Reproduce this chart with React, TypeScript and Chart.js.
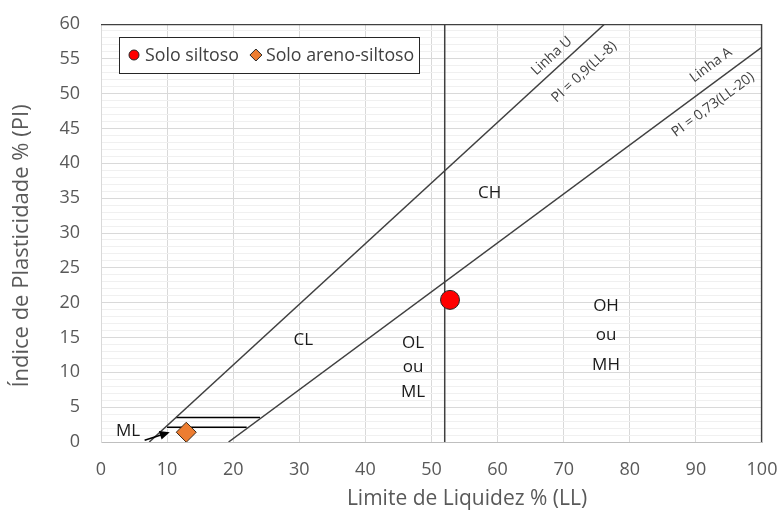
import React, { useEffect, useRef } from 'react';
import { Chart, registerables } from 'chart.js';

Chart.register(...registerables);

const FONT = '"Open Sans", sans-serif';

// ---- data ----
const seriesNames = ['Solo siltoso', 'Solo areno-siltoso'];
const siltosoLL = [52.8];
const siltosoPI = [20.4];
const arenoLL = [12.9];
const arenoPI = [1.4];

const linhaU_LL = [7.3, 76.2];
const linhaU_PI = [0, 60];
const linhaA_LL = [19.3, 100];
const linhaA_PI = [0, 56.7];
const limiteLL = [52, 52];
const limitePI = [0, 60];
const faixaSupLL = [11.35, 24.05];
const faixaSupPI = [3.5, 3.5];
const faixaInfLL = [9.98, 22.04];
const faixaInfPI = [2.1, 2.1];
const setaLL = [6.6, 10.4];
const setaPI = [0.25, 1.4];

const zoneLabels = ['CL', 'CH', 'OL', 'ou', 'ML', 'OH', 'ou', 'MH', 'ML'];
const zoneLL = [30.6, 58.8, 47.2, 47.2, 47.2, 76.4, 76.4, 76.4, 4.1];
const zonePI = [14.6, 35.7, 14.2, 10.8, 7.2, 19.5, 15.4, 11.0, 1.5];

const lineLabels = ['Linha U', 'PI = 0,9(LL-8)', 'Linha A', 'PI = 0,73(LL-20)'];
const lineLabelLL = [68.2, 73.1, 92.3, 92.6];
const lineLabelPI = [55.4, 53.1, 54.1, 48.4];
const lineLabelRef = ['U', 'U', 'A', 'A'];

const xTitle = 'Limite de Liquidez % (LL)';
const yTitle = 'Índice de Plasticidade % (PI)';

const toPts = (xs: number[], ys: number[]) => xs.map((x, i) => ({ x, y: ys[i] }));

const annotationPlugin = {
  id: 'annotations',
  afterDatasetsDraw(chart: any) {
    const ctx = chart.ctx as CanvasRenderingContext2D;
    const xs = chart.scales.x;
    const ys = chart.scales.y;
    const ca = chart.chartArea;
    ctx.save();

    // top & right frame
    ctx.strokeStyle = '#404040';
    ctx.lineWidth = 1.25;
    ctx.beginPath();
    ctx.moveTo(ca.left, ca.top + 0.5);
    ctx.lineTo(ca.right - 0.5, ca.top + 0.5);
    ctx.lineTo(ca.right - 0.5, ca.bottom);
    ctx.stroke();

    // zone labels
    ctx.fillStyle = '#1a1a1a';
    ctx.font = `17px ${FONT}`;
    ctx.textAlign = 'center';
    ctx.textBaseline = 'middle';
    zoneLabels.forEach((t, i) => {
      ctx.fillText(t, xs.getPixelForValue(zoneLL[i]), ys.getPixelForValue(zonePI[i]));
    });

    // arrow
    const ax1 = xs.getPixelForValue(setaLL[0]);
    const ay1 = ys.getPixelForValue(setaPI[0]);
    const ax2 = xs.getPixelForValue(setaLL[1]);
    const ay2 = ys.getPixelForValue(setaPI[1]);
    const ang = Math.atan2(ay2 - ay1, ax2 - ax1);
    ctx.strokeStyle = '#000';
    ctx.fillStyle = '#000';
    ctx.lineWidth = 1.5;
    ctx.beginPath();
    ctx.moveTo(ax1, ay1);
    ctx.lineTo(ax2 - 6 * Math.cos(ang), ay2 - 6 * Math.sin(ang));
    ctx.stroke();
    ctx.beginPath();
    ctx.moveTo(ax2, ay2);
    ctx.lineTo(ax2 - 10 * Math.cos(ang) + 4.5 * Math.sin(ang), ay2 - 10 * Math.sin(ang) - 4.5 * Math.cos(ang));
    ctx.lineTo(ax2 - 10 * Math.cos(ang) - 4.5 * Math.sin(ang), ay2 - 10 * Math.sin(ang) + 4.5 * Math.cos(ang));
    ctx.closePath();
    ctx.fill();

    // rotated line labels
    const angleOf = (llArr: number[], piArr: number[]) =>
      Math.atan2(
        ys.getPixelForValue(piArr[1]) - ys.getPixelForValue(piArr[0]),
        xs.getPixelForValue(llArr[1]) - xs.getPixelForValue(llArr[0])
      );
    const angU = angleOf(linhaU_LL, linhaU_PI);
    const angA = angleOf(linhaA_LL, linhaA_PI);
    ctx.fillStyle = '#404040';
    ctx.font = `14px ${FONT}`;
    lineLabels.forEach((t, i) => {
      ctx.save();
      ctx.translate(xs.getPixelForValue(lineLabelLL[i]), ys.getPixelForValue(lineLabelPI[i]));
      ctx.rotate(lineLabelRef[i] === 'U' ? angU : angA);
      ctx.fillText(t, 0, 0);
      ctx.restore();
    });

    // legend box
    const ds = chart.data.datasets;
    ctx.font = `17.8px ${FONT}`;
    const bx = ca.left + 18;
    const by = ca.top + 13;
    const bh = 36;
    const cy = by + bh / 2;
    const w1 = ctx.measureText(ds[0].label).width;
    const w2 = ctx.measureText(ds[1].label).width;
    const m1 = bx + 15;
    const t1 = m1 + 11;
    const m2 = t1 + w1 + 17;
    const t2 = m2 + 10;
    const bw = t2 + w2 + 5 - bx;
    ctx.fillStyle = '#ffffff';
    ctx.fillRect(bx, by, bw, bh);
    ctx.strokeStyle = '#262626';
    ctx.lineWidth = 1;
    ctx.strokeRect(Math.round(bx) + 0.5, Math.round(by) + 0.5, Math.round(bw), bh);
    ctx.fillStyle = ds[0].backgroundColor;
    ctx.strokeStyle = '#262626';
    ctx.beginPath();
    ctx.arc(m1, cy, 5, 0, Math.PI * 2);
    ctx.fill();
    ctx.stroke();
    ctx.fillStyle = ds[1].backgroundColor;
    ctx.beginPath();
    ctx.moveTo(m2, cy - 6);
    ctx.lineTo(m2 + 6, cy);
    ctx.lineTo(m2, cy + 6);
    ctx.lineTo(m2 - 6, cy);
    ctx.closePath();
    ctx.fill();
    ctx.stroke();
    ctx.fillStyle = '#404040';
    ctx.textAlign = 'left';
    ctx.fillText(ds[0].label, t1, cy + 1);
    ctx.fillText(ds[1].label, t2, cy + 1);

    // axis titles
    ctx.fillStyle = '#595959';
    ctx.textAlign = 'center';
    ctx.font = `21px ${FONT}`;
    ctx.fillText(xTitle, ca.left + 366, ca.bottom + 57);
    ctx.save();
    ctx.font = `22px ${FONT}`;
    ctx.translate(ca.left - 79, ca.top + 222);
    ctx.rotate(-Math.PI / 2);
    ctx.fillText(yTitle, 0, 0);
    ctx.restore();

    ctx.restore();
  },
};

const zeroPad = (s: any) => {
  s.paddingLeft = 0;
  s.paddingRight = 0;
  s.paddingTop = 0;
  s.paddingBottom = 0;
};

export default function App() {
  const ref = useRef<HTMLCanvasElement | null>(null);

  useEffect(() => {
    document.body.style.margin = '0';
    const canvas = ref.current;
    if (!canvas) return;
    const lineDs = (label: string, xs: number[], ys: number[], color: string, width: number) => ({
      type: 'scatter' as const,
      label,
      data: toPts(xs, ys),
      showLine: true,
      borderColor: color,
      borderWidth: width,
      pointRadius: 0,
      pointHoverRadius: 0,
      fill: false,
    });
    const chart = new Chart(canvas, {
      type: 'scatter',
      data: {
        datasets: [
          {
            label: seriesNames[0],
            data: toPts(siltosoLL, siltosoPI),
            backgroundColor: '#FF0000',
            borderColor: '#262626',
            borderWidth: 1,
            pointStyle: 'circle',
            pointRadius: 9.5,
          },
          {
            label: seriesNames[1],
            data: toPts(arenoLL, arenoPI),
            backgroundColor: '#ED7D31',
            borderColor: '#3a2a1a',
            borderWidth: 1,
            pointStyle: 'rectRot',
            pointRadius: 10,
          },
          lineDs('Linha U', linhaU_LL, linhaU_PI, '#404040', 1.5),
          lineDs('Linha A', linhaA_LL, linhaA_PI, '#404040', 1.5),
          lineDs('LL limite', limiteLL, limitePI, '#404040', 1.5),
          lineDs('faixa sup', faixaSupLL, faixaSupPI, '#000000', 1.5),
          lineDs('faixa inf', faixaInfLL, faixaInfPI, '#000000', 1.5),
        ] as any,
      },
      options: {
        animation: false,
        responsive: true,
        maintainAspectRatio: false,
        layout: { padding: { top: 24, right: 21, bottom: 0, left: 0 } },
        plugins: {
          legend: { display: false },
          tooltip: { enabled: false },
        },
        scales: {
          x: {
            type: 'linear',
            min: 0,
            max: 100,
            afterFit: (s: any) => {
              s.height = 72;
              zeroPad(s);
            },
            ticks: {
              stepSize: 10,
              padding: 17,
              color: '#595959',
              font: { family: FONT, size: 18 },
            },
            grid: { color: '#d9d9d9', drawTicks: false, lineWidth: 1 },
            border: { color: '#bfbfbf' },
            title: { display: false },
          },
          y: {
            type: 'linear',
            min: 0,
            max: 60,
            afterFit: (s: any) => {
              s.width = 101;
              zeroPad(s);
            },
            ticks: {
              stepSize: 1,
              maxTicksLimit: 100,
              autoSkip: false,
              padding: 21,
              color: '#595959',
              font: { family: FONT, size: 18 },
              callback: (v: any) => (Number(v) % 5 === 0 ? String(v) : ''),
            },
            grid: {
              drawTicks: false,
              color: (c: any) => (c.tick && c.tick.value % 5 === 0 ? '#d9d9d9' : '#f0f0f0'),
              lineWidth: 1,
            },
            border: { color: '#d9d9d9' },
            title: { display: false },
          },
        },
      } as any,
      plugins: [annotationPlugin],
    });
    return () => chart.destroy();
  }, []);

  return (
    <div style={{ width: 783, height: 514, position: 'relative' }}>
      <canvas ref={ref} />
    </div>
  );
}
